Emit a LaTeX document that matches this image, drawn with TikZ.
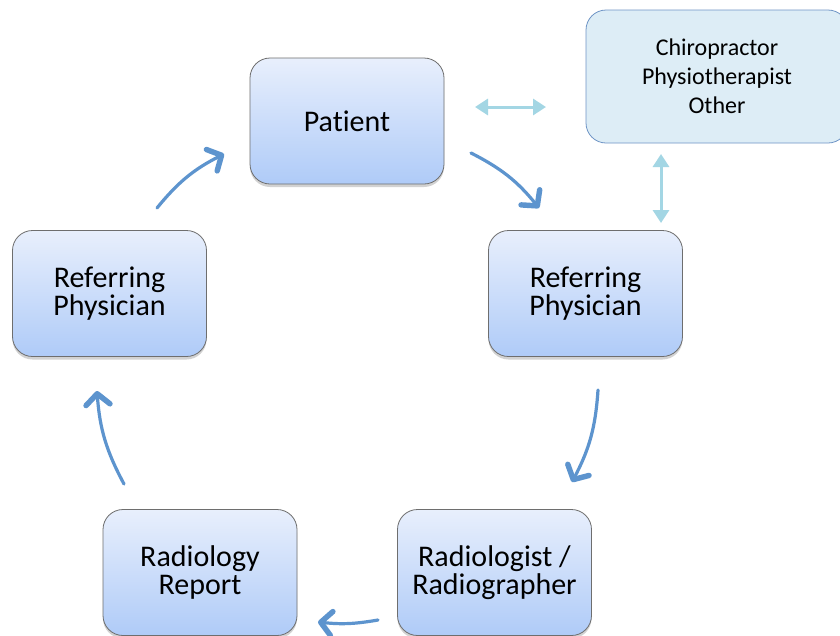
\documentclass[tikz,border=0pt]{standalone}
\usepackage{fontspec}
\setmainfont{Carlito}[Ligatures=NoCommon]
\usetikzlibrary{arrows.meta,shadows}
\definecolor{boxtop}{HTML}{E8EFFC}
\definecolor{boxbot}{HTML}{AFCBF8}
\definecolor{boxline}{HTML}{6E6E6E}
\definecolor{chifill}{HTML}{DDEDF6}
\definecolor{chiline}{HTML}{6F95C6}
\definecolor{flow}{HTML}{5D94CE}
\definecolor{light}{HTML}{A3D6E4}
\tikzset{
  stepbox/.style={rectangle, rounded corners=20pt, draw=boxline, line width=0.8pt,
    top color=boxtop, bottom color=boxbot, minimum width=194pt, minimum height=126pt,
    align=center, font=\fontsize{30}{28}\selectfont, inner sep=0pt,
    drop shadow={opacity=0.35, shadow xshift=0pt, shadow yshift=-3pt}},
  chibox/.style={rectangle, rounded corners=20pt, draw=chiline, line width=0.8pt,
    fill=chifill, minimum width=262pt, minimum height=133pt, align=center,
    font=\fontsize{24}{29}\selectfont, inner sep=0pt},
  flowarrow/.style={draw=flow, line width=3.2pt, line cap=round,
    -{Straight Barb[length=11pt,width=24pt,line width=0pt 1.7,line cap=round,line join=round]}},
  duo/.style={draw=light, line width=3pt,
    {Triangle[length=13pt,width=16pt]}-{Triangle[length=13pt,width=16pt]}}
}
\begin{document}
\begin{tikzpicture}[x=1pt,y=-1pt]
\clip (0,0) rectangle (840,635);
\fill[white] (0,0) rectangle (840,635);
\node[stepbox] (pat) at (347,121) {Patient};
\node[stepbox] (refL) at (109.5,293.5) {Referring\\Physician};
\node[stepbox] (refR) at (585.5,293.5) {Referring\\Physician};
\node[stepbox] (rep) at (200,572.5) {Radiology\\Report};
\node[stepbox] (rad) at (494.5,572.5) {Radiologist /\\Radiographer};
\node[chibox] (chi) at (717,76.5) {Chiropractor\\Physiotherapist\\Other};
\coordinate (a1s) at (157,208); \coordinate (a1e) at (224,154);
\coordinate (a2s) at (471,153); \coordinate (a2e) at (539,208);
\coordinate (a3s) at (598,390); \coordinate (a3e) at (572,482);
\coordinate (a4s) at (378,620); \coordinate (a4e) at (318,622);
\coordinate (a5s) at (124,484); \coordinate (a5e) at (97,391);
\coordinate (h1) at (475,107); \coordinate (h2) at (546,107);
\coordinate (v1) at (661,154); \coordinate (v2) at (661,223);
\draw[flowarrow] (a1s) to[bend left=12] (a1e);
\draw[flowarrow] (a2s) to[bend left=12] (a2e);
\draw[flowarrow] (a3s) to[bend left=12] (a3e);
\draw[flowarrow] (a4s) to[bend left=8] (a4e);
\draw[flowarrow] (a5s) to[bend left=12] (a5e);
\draw[duo] (h1) -- (h2);
\draw[duo] (v1) -- (v2);
\end{tikzpicture}
\end{document}
